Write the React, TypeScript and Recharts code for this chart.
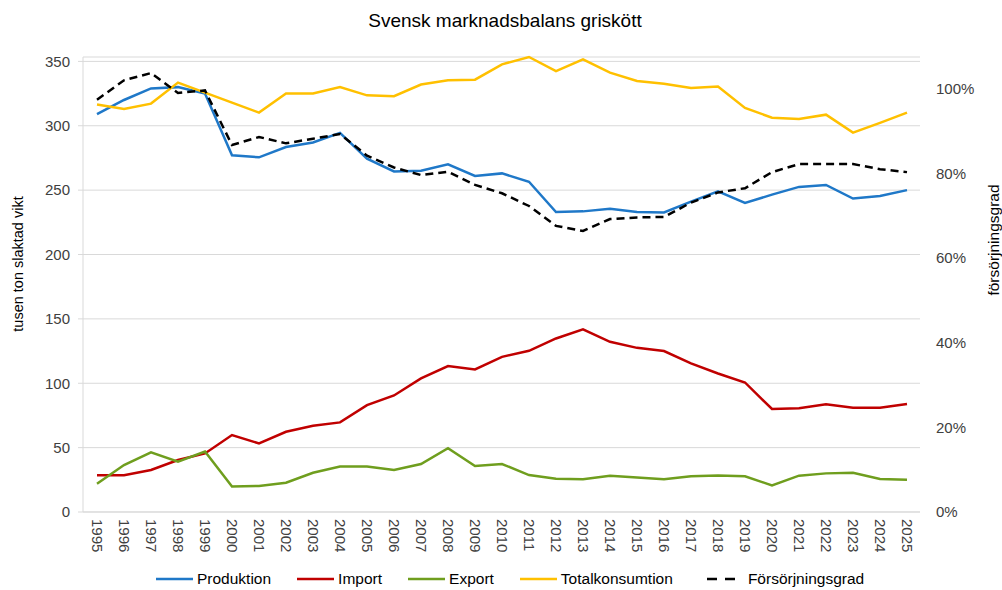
import React from "react";
import { LineChart, Line, XAxis, YAxis, CartesianGrid } from "recharts";

const years = [
  "1995", "1996", "1997", "1998", "1999", "2000", "2001", "2002", "2003", "2004",
  "2005", "2006", "2007", "2008", "2009", "2010", "2011", "2012", "2013", "2014",
  "2015", "2016", "2017", "2018", "2019", "2020", "2021", "2022", "2023", "2024", "2025",
];

const produktion = [
  309, 320, 329, 330, 325, 277, 275.5, 283.5, 287, 294.5,
  274.5, 264.5, 265, 270, 261, 263, 256.5, 233, 233.5, 235.5,
  233, 232.6, 241, 249, 240, 246.5, 252.5, 254, 243.5, 245.5, 250,
];

const importVals = [
  28.5, 28.5, 32.6, 40.4, 45.5, 59.8, 53.3, 62.3, 67, 69.6,
  83, 90.5, 103.8, 113.3, 110.7, 120.5, 125.2, 134.8, 141.8, 132.2,
  127.5, 125, 115.4, 107.6, 100.6, 80, 80.5, 83.6, 81, 81, 83.8,
];

const exportVals = [
  22, 36.5, 46.3, 39, 47, 19.8, 20.2, 22.7, 30.5, 35.4,
  35.4, 32.6, 37.3, 49.6, 35.7, 37.3, 28.7, 25.8, 25.4, 28.2,
  26.8, 25.4, 27.8, 28.3, 27.8, 20.6, 28.2, 30, 30.5, 25.6, 25,
];

const totalkonsumtion = [
  316.5, 313, 317.2, 333.5, 325.7, 318, 310.2, 325, 325, 330,
  323.6, 323, 332, 335.3, 335.8, 347.7, 353.4, 342.5, 351.6, 341.2,
  334.8, 332.7, 329.3, 330.4, 313.8, 306.3, 305.3, 308.6, 294.7, 302.2, 310.2,
];

const forsorjningsgrad = [
  0.974, 1.02, 1.037, 0.99, 0.996, 0.867, 0.886, 0.871, 0.882, 0.893,
  0.842, 0.814, 0.796, 0.804, 0.773, 0.753, 0.723, 0.676, 0.664, 0.692,
  0.696, 0.697, 0.731, 0.755, 0.765, 0.803, 0.822, 0.822, 0.822, 0.81, 0.803,
];

const leftTicks = [0, 50, 100, 150, 200, 250, 300, 350];
const rightTicks = [0, 0.2, 0.4, 0.6, 0.8, 1.0];

const title = "Svensk marknadsbalans griskött";
const leftLabel = "tusen ton slaktad vikt";
const rightLabel = "försörjningsgrad";

const series = [
  { key: "Produktion", color: "#1F78C8", dash: undefined as string | undefined },
  { key: "Import", color: "#C00000", dash: undefined as string | undefined },
  { key: "Export", color: "#6F9E1E", dash: undefined as string | undefined },
  { key: "Totalkonsumtion", color: "#FFC000", dash: undefined as string | undefined },
  { key: "Försörjningsgrad", color: "#000000", dash: "8 5" },
];

const data = years.map((y, i) => ({
  year: y,
  Produktion: produktion[i],
  Import: importVals[i],
  Export: exportVals[i],
  Totalkonsumtion: totalkonsumtion[i],
  "Försörjningsgrad": forsorjningsgrad[i],
}));

const FONT = "'Liberation Sans', Arial, sans-serif";
const TEXT = "#404040";

const XTick = (props: any) => {
  const { x, y, payload } = props;
  return (
    <text
      x={x}
      y={y}
      transform={`rotate(90, ${x}, ${y})`}
      textAnchor="start"
      dominantBaseline="central"
      fontSize={15}
      fontFamily={FONT}
      fill={TEXT}
    >
      {payload.value}
    </text>
  );
};

export default function App() {
  return (
    <div style={{ position: "relative", width: 1002, height: 590, background: "#fff", fontFamily: FONT }}>
      <style>{`body{margin:0;}`}</style>
      <LineChart
        width={1002}
        height={590}
        data={data}
        margin={{ top: 57, right: 0, bottom: 28, left: 0 }}
      >
        <CartesianGrid yAxisId="left" vertical={false} stroke="#D9D9D9" strokeWidth={1} />
        <XAxis
          dataKey="year"
          height={50}
          interval={0}
          padding={{ left: 14, right: 13 }}
          axisLine={{ stroke: "#D9D9D9" }}
          tickLine={false}
          tickSize={0}
          tickMargin={7}
          tick={<XTick />}
        />
        <YAxis
          yAxisId="left"
          width={83}
          domain={[0, 350]}
          ticks={leftTicks}
          interval={0}
          axisLine={{ stroke: "#D9D9D9" }}
          tickLine={{ stroke: "#D9D9D9" }}
          tickSize={5}
          tickMargin={8}
          tick={{ fontSize: 15, fill: TEXT, fontFamily: FONT }}
        />
        <YAxis
          yAxisId="right"
          orientation="right"
          width={82}
          domain={[0, 1.075]}
          ticks={rightTicks}
          interval={0}
          allowDataOverflow
          axisLine={false}
          tickLine={false}
          tickSize={6}
          tickMargin={10}
          tickFormatter={(v: number) => `${Math.round(v * 100)}%`}
          tick={{ fontSize: 15, fill: TEXT, fontFamily: FONT }}
        />
        {series.map((s) => (
          <Line
            key={s.key}
            yAxisId={s.key === "Försörjningsgrad" ? "right" : "left"}
            type="linear"
            dataKey={s.key}
            stroke={s.color}
            strokeWidth={2.5}
            strokeDasharray={s.dash}
            dot={false}
            activeDot={false}
            isAnimationActive={false}
          />
        ))}
      </LineChart>
      <svg
        width={1002}
        height={590}
        style={{ position: "absolute", left: 0, top: 0, pointerEvents: "none" }}
      >
        <text x={505} y={27} textAnchor="middle" fontSize={19} fontFamily={FONT} fill="#000">
          {title}
        </text>
        <text
          x={18}
          y={264}
          transform="rotate(-90, 18, 264)"
          textAnchor="middle"
          dominantBaseline="central"
          fontSize={14.5}
          fontFamily={FONT}
          fill="#000"
        >
          {leftLabel}
        </text>
        <text
          x={993}
          y={240}
          transform="rotate(-90, 993, 240)"
          textAnchor="middle"
          dominantBaseline="central"
          fontSize={15.5}
          fontFamily={FONT}
          fill="#000"
        >
          {rightLabel}
        </text>
      </svg>
      <div
        style={{
          position: "absolute",
          left: 156,
          top: 570,
          display: "flex",
          justifyContent: "flex-start",
          alignItems: "center",
          fontSize: 15.5,
          color: "#000",
          fontFamily: FONT,
          whiteSpace: "nowrap",
        }}
      >
        {series.map((s) => (
          <div key={s.key} style={{ display: "flex", alignItems: "center", marginRight: 26 }}>
            <svg
              width={s.dash ? 28 : 37}
              height={6}
              style={{ marginRight: s.dash ? 13 : 4, marginLeft: s.dash ? 8 : 0 }}
            >
              <line
                x1={0}
                y1={3}
                x2={s.dash ? 28 : 37}
                y2={3}
                stroke={s.color}
                strokeWidth={2.5}
                strokeDasharray={s.dash ? "10 8" : undefined}
              />
            </svg>
            <span>{s.key}</span>
          </div>
        ))}
      </div>
    </div>
  );
}
